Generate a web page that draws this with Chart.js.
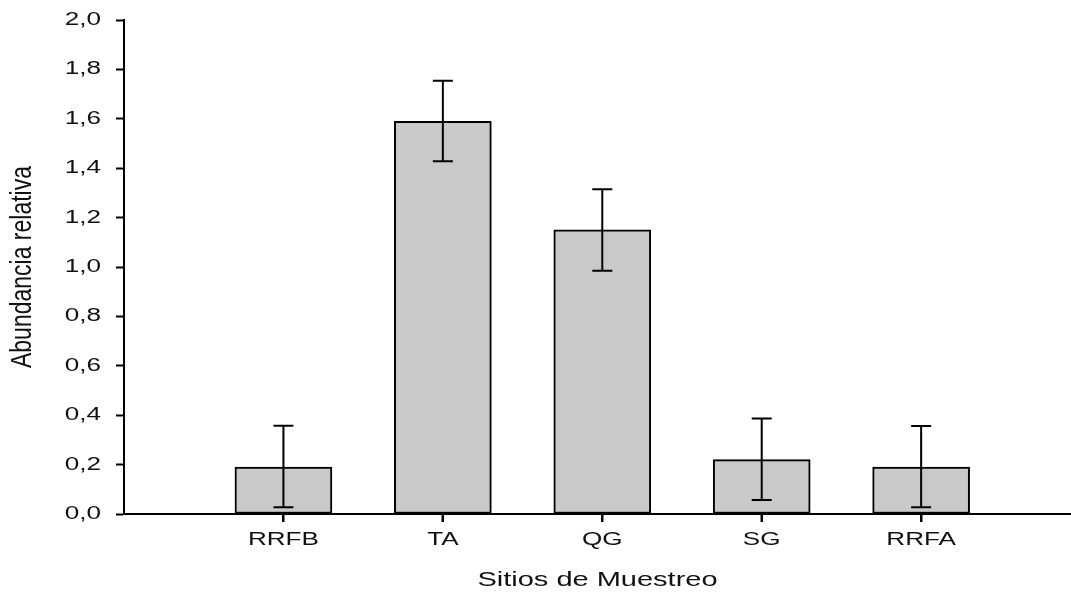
<!DOCTYPE html>
<html>
<head>
<meta charset="utf-8">
<title>Abundancia relativa por sitio de muestreo</title>
<script src="https://cdn.jsdelivr.net/npm/chart.js@4.4.1/dist/chart.umd.min.js"></script>
<style>
  html, body { margin: 0; padding: 0; background: #ffffff; overflow: hidden; }
  canvas { display: block; }
</style>
</head>
<body>
<canvas id="chart" width="1071" height="595"></canvas>
<script>
// Sampling sites (category tick labels)
const categories = ['RRFB', 'TA', 'QG', 'SG', 'RRFA'];
// Mean relative abundance per site
const means = [0.19, 1.59, 1.15, 0.22, 0.19];
// Lower and upper ends of the error bars
const errLow = [0.027, 1.428, 0.985, 0.057, 0.027];
const errHigh = [0.357, 1.754, 1.315, 0.387, 0.356];

const FONT = "'Liberation Sans', Arial, Helvetica, sans-serif";
const INK = '#111111';

const canvas = document.getElementById('chart');
const ctx = canvas.getContext('2d');

// Widen all glyphs horizontally (in device space) for the wide sans look of the labels.
const TEXT_STRETCH = 1.45;
const ROTATED_STRETCH = 1.25;
const nativeFillText = ctx.fillText;
ctx.fillText = function (text, x, y, maxWidth) {
  const m = this.getTransform();
  const p = m.transformPoint(new DOMPoint(x, y));
  const s = Math.abs(m.b) > 1e-6 ? ROTATED_STRETCH : TEXT_STRETCH;
  this.save();
  this.setTransform(s * m.a, m.b, s * m.c, m.d, p.x, p.y);
  if (maxWidth === undefined) nativeFillText.call(this, text, 0, 0);
  else nativeFillText.call(this, text, 0, 0, maxWidth * s);
  this.restore();
};

// Error bars with caps over the bars, plus the outward tick marks under each site
const errorBars = {
  id: 'errorBars',
  afterDatasetsDraw(chart) {
    const xs = chart.scales.x, ys = chart.scales.y;
    const c = chart.ctx;
    c.save();
    c.strokeStyle = '#000000';
    c.lineWidth = 2;
    const cap = 10;
    categories.forEach((_, i) => {
      const x = xs.getPixelForValue(i + 1);
      const yLo = ys.getPixelForValue(errLow[i]);
      const yHi = ys.getPixelForValue(errHigh[i]);
      c.beginPath();
      c.moveTo(x, yLo); c.lineTo(x, yHi);
      c.moveTo(x - cap, yHi); c.lineTo(x + cap, yHi);
      c.moveTo(x - cap, yLo); c.lineTo(x + cap, yLo);
      c.stroke();
    });
    c.restore();
  },
  afterDraw(chart) {
    const xs = chart.scales.x;
    const base = chart.chartArea.bottom;
    const c = chart.ctx;
    c.save();
    c.strokeStyle = '#000000';
    c.lineWidth = 2;
    categories.forEach((_, i) => {
      const x = Math.round(xs.getPixelForValue(i + 1));
      c.beginPath();
      c.moveTo(x, base);
      c.lineTo(x, base + 8);
      c.stroke();
    });
    c.restore();
  }
};

new Chart(ctx, {
  type: 'bar',
  data: {
    datasets: [{
      data: categories.map((c, i) => ({ x: i + 1, y: means[i] })),
      backgroundColor: '#c9c9c9',
      borderColor: '#000000',
      borderWidth: 2,
      borderSkipped: false,
      barThickness: 97
    }]
  },
  options: {
    responsive: false,
    animation: false,
    events: [],
    layout: { padding: { left: 0, right: 0, top: 20, bottom: 0 } },
    plugins: { legend: { display: false }, tooltip: { enabled: false } },
    scales: {
      x: {
        type: 'linear',
        min: 0,
        max: 5.94,
        offset: false,
        afterBuildTicks(scale) {
          scale.ticks = categories.map((c, i) => ({ value: i + 1 }));
        },
        afterFit(scale) {
          scale.height = 81;
          scale.paddingLeft = 0;
          scale.paddingRight = 0;
        },
        border: { display: true, color: '#000000', width: 2 },
        grid: {
          offset: false,
          drawOnChartArea: false, drawTicks: true,
          tickLength: 8, tickColor: '#000000', tickWidth: 2
        },
        ticks: {
          autoSkip: false, maxRotation: 0, padding: 7,
          color: INK,
          font: { family: FONT, size: 18 },
          callback: (v) => categories[Math.round(v) - 1] ?? ''
        },
        title: {
          display: true,
          text: 'Sitios de Muestreo',
          color: INK,
          font: { family: FONT, size: 20 },
          padding: { top: 0, bottom: 3 }
        }
      },
      y: {
        min: 0,
        max: 2,
        afterFit(scale) {
          scale.width = 124;
          scale.paddingTop = 0;
          scale.paddingBottom = 0;
        },
        border: { display: true, color: '#000000', width: 2 },
        grid: {
          drawOnChartArea: false, drawTicks: true,
          tickLength: 8, tickColor: '#000000', tickWidth: 2
        },
        ticks: {
          stepSize: 0.2, padding: 15,
          color: INK,
          font: { family: FONT, size: 18 },
          callback: (v) => v.toFixed(1).replace('.', ',')
        },
        title: {
          display: true,
          text: 'Abundancia relativa',
          color: INK,
          font: { family: FONT, size: 23 },
          padding: { top: 9, bottom: 0 }
        }
      }
    }
  },
  plugins: [errorBars]
});
</script>
</body>
</html>
